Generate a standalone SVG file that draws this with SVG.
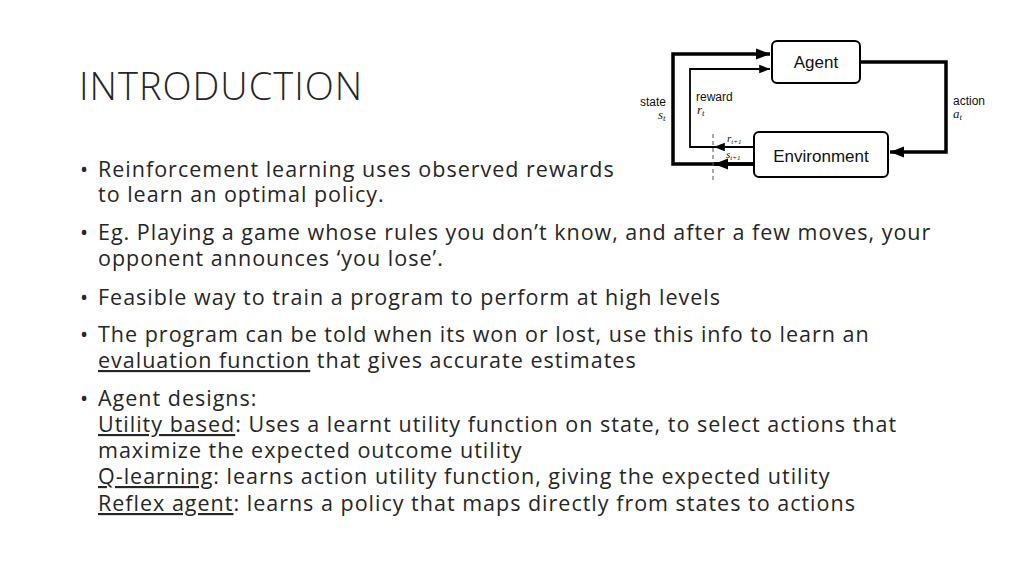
<svg xmlns="http://www.w3.org/2000/svg" width="1024" height="576" viewBox="0 0 1024 576">
<defs>
<marker id="ah" viewBox="0 0 10 10" refX="10" refY="5" markerWidth="4" markerHeight="4" markerUnits="strokeWidth" orient="auto"><path d="M0,1 L10,5 L0,9 z" fill="#000"/></marker>
<marker id="ahs" viewBox="0 0 10 10" refX="10" refY="5" markerWidth="6" markerHeight="6" markerUnits="strokeWidth" orient="auto"><path d="M0,1 L10,5 L0,9 z" fill="#000"/></marker>
<style>
.t{font-family:"Open Sans","Liberation Sans",sans-serif;font-size:21.5px;letter-spacing:1px;fill:#262626}
.u{text-decoration:underline}
.d{font-family:"Liberation Sans",Arial,sans-serif;fill:#111}
.m{font-family:"Liberation Serif",serif;font-style:italic;fill:#111}
.box{fill:#fff;stroke:#000;stroke-width:2}
.thick{fill:none;stroke:#000;stroke-width:3.5}
.thin{fill:none;stroke:#000;stroke-width:1.8}
</style>
</defs>
<rect width="1024" height="576" fill="#fff"/>
<text x="79" y="100" font-family="Open Sans,Liberation Sans,sans-serif" font-weight="300" font-size="38" letter-spacing="1" fill="#262626">INTRODUCTION</text>
<g id="connectors">
<path class="thick" d="M754,164 H673 V54 H770" marker-end="url(#ah)"/>
<path class="thin" d="M754,147 H690 V69 H770" marker-end="url(#ahs)"/>
<path class="thick" d="M860,62 H946 V152 H890" marker-end="url(#ah)"/>
<path class="thick" d="M754,164 H714" marker-end="url(#ah)"/>
<path class="thin" d="M754,147 H714" marker-end="url(#ahs)"/>
<line x1="713" y1="134" x2="713" y2="182" stroke="#555" stroke-width="1" stroke-dasharray="4,3"/>
</g>
<g id="agent"><rect class="box" x="772" y="41" width="88" height="42" rx="5"/><text class="d" x="816" y="68" font-size="17" text-anchor="middle">Agent</text></g>
<g id="environment"><rect class="box" x="754" y="132" width="134" height="45" rx="5"/><text class="d" x="821" y="162" font-size="17" text-anchor="middle">Environment</text></g>
<g id="labels">
<text class="d" x="653" y="106" font-size="12" text-anchor="middle">state</text>
<text class="m" x="658" y="119" font-size="13">s<tspan font-size="9" dy="2">t</tspan></text>
<text class="d" x="696" y="101" font-size="12">reward</text>
<text class="m" x="697" y="114" font-size="13">r<tspan font-size="9" dy="2">t</tspan></text>
<text class="m" x="727" y="142" font-size="11">r<tspan font-size="7" dy="2">t+1</tspan></text>
<text class="m" x="726" y="158" font-size="11">s<tspan font-size="7" dy="2">t+1</tspan></text>
<text class="d" x="953" y="105" font-size="12">action</text>
<text class="m" x="953" y="118" font-size="13">a<tspan font-size="9" dy="2">t</tspan></text>
</g>
<g id="body">
<text class="t" x="80" y="177">•</text><text class="t" x="98" y="177">Reinforcement learning uses observed rewards</text>
<text class="t" x="98" y="202">to learn an optimal policy.</text>
<text class="t" x="80" y="240">•</text><text class="t" x="98" y="240">Eg. Playing a game whose rules you don’t know, and after a few moves, your</text>
<text class="t" x="98" y="266">opponent announces ‘you lose’.</text>
<text class="t" x="80" y="305">•</text><text class="t" x="98" y="305">Feasible way to train a program to perform at high levels</text>
<text class="t" x="80" y="342">•</text><text class="t" x="98" y="342">The program can be told when its won or lost, use this info to learn an</text>
<text class="t" x="98" y="368"><tspan class="u">evaluation function</tspan> that gives accurate estimates</text>
<text class="t" x="80" y="406">•</text><text class="t" x="98" y="406">Agent designs:</text>
<text class="t" x="98" y="432"><tspan class="u">Utility based</tspan>: Uses a learnt utility function on state, to select actions that</text>
<text class="t" x="98" y="458">maximize the expected outcome utility</text>
<text class="t" x="98" y="484"><tspan class="u">Q-learning</tspan>: learns action utility function, giving the expected utility</text>
<text class="t" x="98" y="511"><tspan class="u">Reflex agent</tspan>: learns a policy that maps directly from states to actions</text>
</g>
</svg>
